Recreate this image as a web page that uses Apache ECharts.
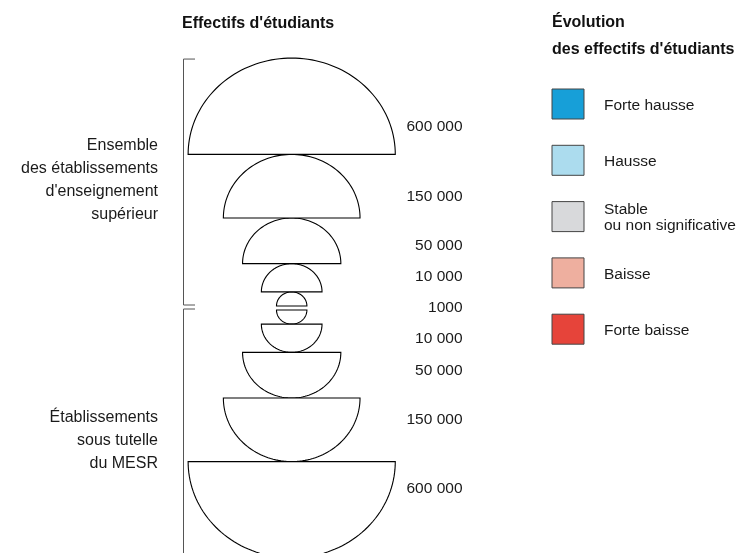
<!DOCTYPE html>
<html>
<head>
    <meta charset="utf-8">
    <script src="https://cdn.jsdelivr.net/npm/echarts@6/dist/echarts.min.js"></script>
    <style>
        html, body { margin: 0; padding: 0; background: #fff; }
    </style>
</head>
<body>
    <div id="main" style="width: 748px;height:553px"></div>
    <script type="text/javascript">
        // valeurs des demi-cercles (du plus petit au plus grand)
        var sizes = [1000, 10000, 50000, 150000, 600000];
        var sizeLabels = ['1000', '10 000', '50 000', '150 000', '600 000'];
        // -1 = en haut (ensemble), 1 = en bas (MESR)
        var groupDirs = [-1, 1];
        var groupNames = [
            "Ensemble\ndes établissements\nd'enseignement\nsupérieur",
            "Établissements\nsous tutelle\ndu MESR"
        ];
        var evolutionCats = ['Forte hausse', 'Hausse', 'Stable\nou non significative', 'Baisse', 'Forte baisse'];
        var evolutionColors = ['#179fd8', '#acdcee', '#d8d9db', '#eeaf9f', '#e6443a'];

        var FONT = '"Liberation Sans", Arial, Helvetica, sans-serif';
        var CX = 291.7, SEAM = 308, GAP = 2;

        // rayon en px (axe en px) à partir de l'effectif
        function radius(v) { return 15.2 * Math.pow(v / 1000, 0.3); }
        function height(v) { return radius(v) * 0.93; }
        function innerOf(i, dir) {
            var y = SEAM + dir * GAP;
            for (var k = 0; k < i; k++) y += dir * height(sizes[k]);
            return y;
        }

        var halfData = [];
        groupDirs.forEach(function (d) {
            sizes.forEach(function (s, i) { halfData.push([i, d, s]); });
        });

        var myChart = echarts.init(document.getElementById('main'));

        var renderHalf = function (params, api) {
            var i = api.value(0), dir = api.value(1), v = api.value(2);
            var r = radius(v), h = height(v);
            var inner = innerOf(i, dir);
            var pts = [];
            for (var k = 0; k <= 80; k++) {
                var t = Math.PI * k / 80;
                pts.push(api.coord([CX + r * Math.cos(t), inner + dir * h * Math.sin(t)]));
            }
            var children = [{
                type: 'polygon',
                shape: { points: pts },
                style: { fill: '#fff', stroke: '#000', lineWidth: 1.1 }
            }];
            var ly = null;
            if (i === 0) {
                if (dir < 0) ly = SEAM;
            } else {
                ly = inner + dir * (0.18 * h + 10);
            }
            if (ly !== null) {
                var p = api.coord([462.5, ly]);
                children.push({
                    type: 'text',
                    style: {
                        x: p[0], y: p[1], text: sizeLabels[i],
                        font: '15.5px ' + FONT, fill: '#1a1a1a',
                        textAlign: 'right', textVerticalAlign: 'middle'
                    }
                });
            }
            return { type: 'group', children: children };
        };

        // accolades
        var topY = innerOf(sizes.length, -1);
        var graphics = [
            { type: 'polyline', shape: { points: [[195, topY + 1], [183.5, topY + 1], [183.5, SEAM - 3], [195, SEAM - 3]] },
              style: { stroke: '#555', lineWidth: 1, fill: null } },
            { type: 'polyline', shape: { points: [[195, SEAM + 1], [183.5, SEAM + 1], [183.5, 560]] },
              style: { stroke: '#555', lineWidth: 1, fill: null } },
            { type: 'text', style: { x: 182, y: 24, text: "Effectifs d'étudiants", font: 'bold 16px ' + FONT, fill: '#111', textVerticalAlign: 'middle' } },
            { type: 'text', style: { x: 552, y: 23, text: 'Évolution', font: 'bold 16px ' + FONT, fill: '#111', textVerticalAlign: 'middle' } },
            { type: 'text', style: { x: 552, y: 50, text: "des effectifs d'étudiants", font: 'bold 16px ' + FONT, fill: '#111', textVerticalAlign: 'middle' } },
            { type: 'text', style: { x: 158, y: 180, text: groupNames[0], font: '16px ' + FONT, fill: '#1a1a1a', textAlign: 'right', textVerticalAlign: 'middle', lineHeight: 23 } },
            { type: 'text', style: { x: 158, y: 441, text: groupNames[1], font: '16px ' + FONT, fill: '#1a1a1a', textAlign: 'right', textVerticalAlign: 'middle', lineHeight: 23 } }
        ];
        evolutionCats.forEach(function (c, i) {
            var y0 = 89 + i * 56.3;
            graphics.push({ type: 'rect', shape: { x: 552, y: y0, width: 32, height: 30 },
                style: { fill: evolutionColors[i], stroke: '#444', lineWidth: 1 } });
            graphics.push({ type: 'text', style: { x: 604, y: y0 + 16.5, text: c, font: '15.5px ' + FONT, fill: '#1a1a1a',
                textVerticalAlign: 'middle', lineHeight: 16 } });
        });

        var option = {
            animation: false,
            grid: { left: 0, top: 0, width: 748, height: 553 },
            xAxis: { type: 'value', min: 0, max: 748, show: false },
            yAxis: { type: 'value', min: 0, max: 553, inverse: true, show: false },
            graphic: graphics,
            series: [{
                type: 'custom',
                clip: false,
                renderItem: renderHalf,
                data: halfData
            }]
        };

        myChart.setOption(option);
    </script>
</body>
</html>
